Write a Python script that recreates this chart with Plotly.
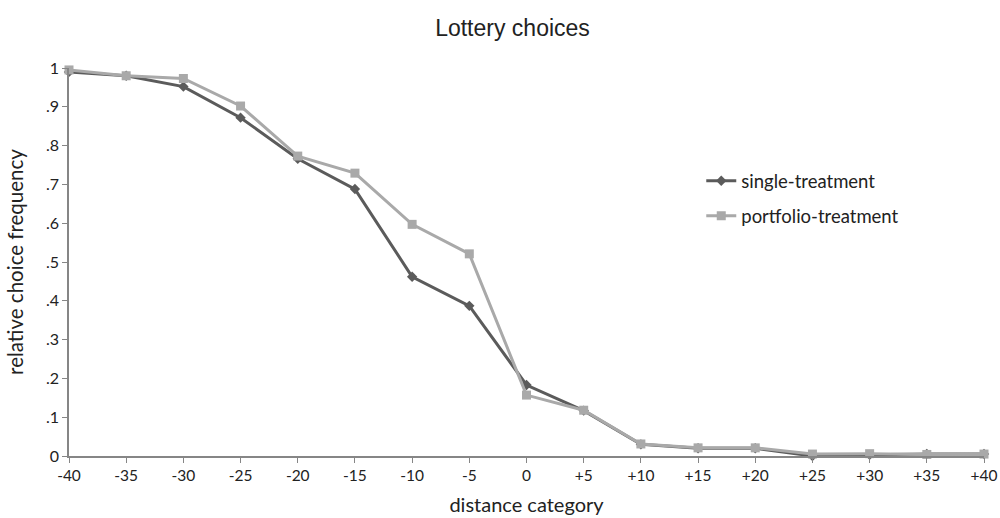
import plotly.graph_objects as go

categories = [-40, -35, -30, -25, -20, -15, -10, -5, 0, 5, 10, 15, 20, 25, 30, 35, 40]
x_tick_labels = ["-40", "-35", "-30", "-25", "-20", "-15", "-10", "-5", "0", "+5", "+10",
                 "+15", "+20", "+25", "+30", "+35", "+40"]
single_treatment = [0.99, 0.98, 0.952, 0.872, 0.766, 0.688, 0.462, 0.387, 0.183, 0.117,
                    0.030, 0.020, 0.020, 0.000, 0.003, 0.005, 0.005]
portfolio_treatment = [0.995, 0.98, 0.973, 0.902, 0.773, 0.729, 0.597, 0.521, 0.157, 0.118,
                       0.031, 0.021, 0.021, 0.005, 0.006, 0.004, 0.005]
y_tick_vals = [0, 0.1, 0.2, 0.3, 0.4, 0.5, 0.6, 0.7, 0.8, 0.9, 1.0]
y_tick_labels = ["0", ".1", ".2", ".3", ".4", ".5", ".6", ".7", ".8", ".9", "1"]

FONT = "Lato, 'Open Sans', sans-serif"

fig = go.Figure()
fig.add_trace(go.Scatter(
    x=categories, y=single_treatment, name="single-treatment", mode="lines+markers",
    line=dict(color="#5b5b5b", width=3),
    marker=dict(symbol="diamond", size=8, color="#5b5b5b"),
    cliponaxis=False, legendgroup="a",
))
fig.add_trace(go.Scatter(
    x=categories, y=portfolio_treatment, name="portfolio-treatment", mode="lines+markers",
    line=dict(color="#a9a9a9", width=3),
    marker=dict(symbol="square", size=9, color="#a9a9a9"),
    cliponaxis=False, legendgroup="b",
))

fig.update_layout(
    width=1000, height=518,
    margin=dict(l=69, r=16, t=68, b=62, autoexpand=False),
    paper_bgcolor="white", plot_bgcolor="white",
    font=dict(family=FONT, color="#222222", size=15),
    title=dict(text="Lottery choices", x=0.5125, xanchor="center", y=0.946, yanchor="middle",
               font=dict(family="'Liberation Sans', Arial, sans-serif", size=23, color="#222222")),
    legend=dict(x=0.691, y=0.663, xanchor="left", yanchor="middle",
                font=dict(size=18.5), bgcolor="rgba(0,0,0,0)", tracegroupgap=8,
                traceorder="grouped", itemwidth=30),
    xaxis=dict(
        range=[-40, 40], tickmode="array", tickvals=categories, ticktext=x_tick_labels,
        showgrid=False, zeroline=False, showline=True, linecolor="#868686", linewidth=1.5,
        ticks="outside", ticklen=5, tickcolor="#868686", automargin=False,
        ticklabeloverflow="allow",
        tickfont=dict(size=15.5),
        title=dict(text="distance category", font=dict(size=20), standoff=15),
    ),
    yaxis=dict(
        range=[0, 1], tickmode="array", tickvals=y_tick_vals, ticktext=y_tick_labels,
        showgrid=False, zeroline=False, showline=True, linecolor="#868686", linewidth=1.5,
        ticks="outside", ticklen=5, tickcolor="#868686", automargin=False,
        ticklabeloverflow="allow",
        tickfont=dict(size=16),
        title=dict(text="relative choice frequency", font=dict(size=20.5), standoff=17),
    ),
)

fig.write_html("out.html", config={"displayModeBar": False},
               post_script="document.body.style.margin='0';")
